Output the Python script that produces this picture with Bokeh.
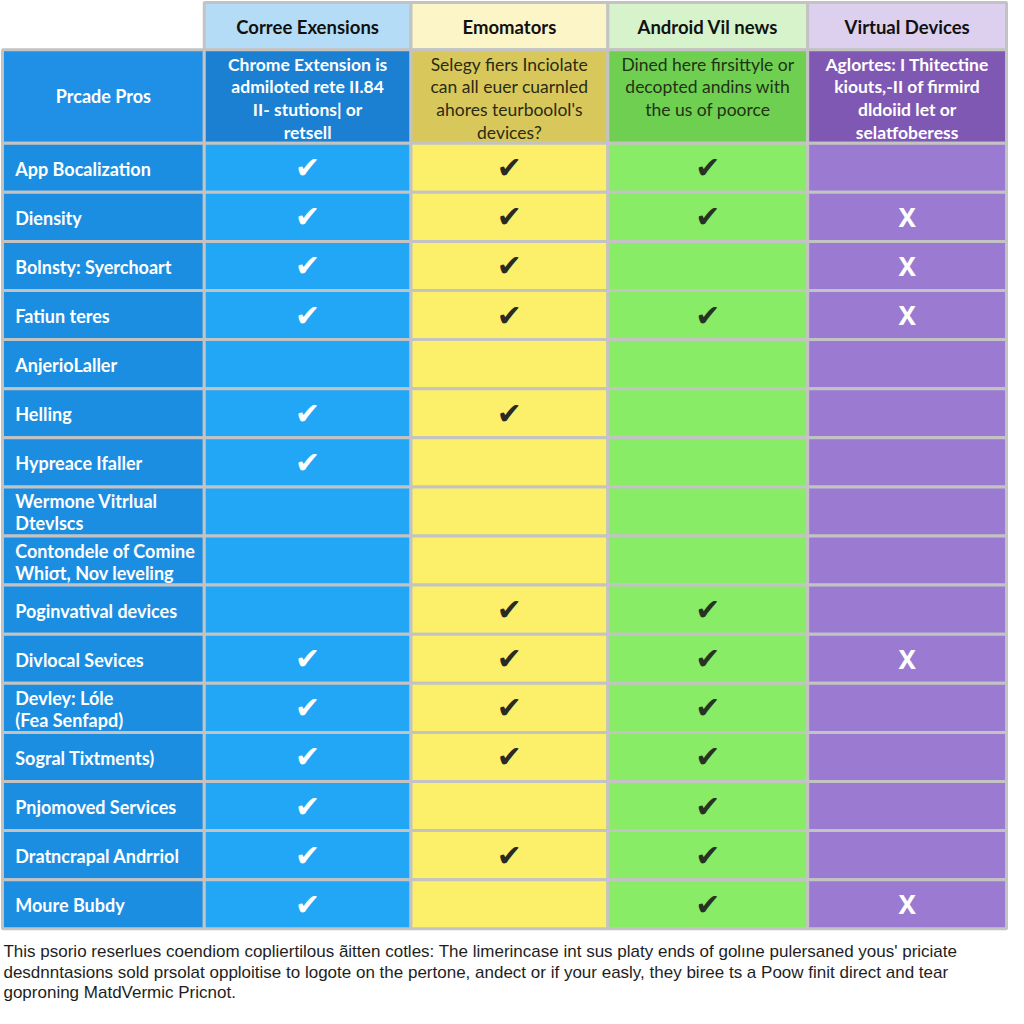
from bokeh.plotting import figure
from bokeh.models import Range1d
from bokeh.core.properties import value
from bokeh.embed import file_html
from bokeh.resources import INLINE

# ---------------- data ----------------
column_titles = ["Corree Exensions", "Emomators", "Android Vil news", "Virtual Devices"]
corner_label = "Prcade Pros"
column_descriptions = [
    "Chrome Extension is\nadmiloted rete II.84\nII- stutions| or\nretsell",
    "Selegy fiers Inciolate\ncan all euer cuarnled\nahores teurboolol's\ndevices?",
    "Dined here firsittyle or\ndecopted andins with\nthe us of poorce",
    "Aglortes: I Thitectine\nkiouts,-II of firmird\ndldoiid let or\nselatfoberess",
]
features = [
    "App Bocalization",
    "Diensity",
    "Bolnsty: Syerchoart",
    "Fatiun teres",
    "AnjerioLaller",
    "Helling",
    "Hypreace Ifaller",
    "Wermone Vitrlual\nDtevlscs",
    "Contondele of Comine\nWhiσt, Nov leveling",
    "Poginvatival devices",
    "Divlocal Sevices",
    "Devley: Lóle\n(Fea Senfapd)",
    "Sogral Tixtments)",
    "Pnjomoved Services",
    "Dratncrapal Andrriol",
    "Moure Bubdy",
]
# "y" = check mark, "n" = cross, "" = empty
chrome_ext = ["y", "y", "y", "y", "", "y", "y", "", "", "", "y", "y", "y", "y", "y", "y"]
emulators = ["y", "y", "y", "y", "", "y", "", "", "", "y", "y", "y", "y", "", "y", ""]
android_vd = ["y", "y", "", "y", "", "", "", "", "", "y", "y", "y", "y", "y", "y", "y"]
virtual_dev = ["", "n", "n", "n", "", "", "", "", "", "", "n", "", "", "", "", "n"]
footnote = [
    "This psorio reserlues coendiom copliertilous ãitten cotles: The limerincase int sus platy ends of golıne pulersaned yous' priciate",
    "desdnntasions sold prsolat opploitise to logote on the pertone, andect or if your easly, they biree ts a Poow finit direct and tear",
    "goproning MatdVermic Pricnot.",
]

# ---------------- layout / style ----------------
col_edges = [2, 207, 417, 617, 820, 1022]
header_top, header_bot, desc_bot, table_bot = 2, 50, 145, 943
n_rows = len(features)
row_h = (table_bot - desc_bot) / n_rows

left_color = "#1c8ee2"
header_colors = ["#b5dcf7", "#fcf5c8", "#d6f3cb", "#ddd0ef"]
desc_colors = ["#1b80d2", "#d8c85c", "#6fcf50", "#7f58b4"]
body_colors = ["#22a6f6", "#fcf06a", "#89ec66", "#9b7ad1"]
desc_text_colors = ["white", "#2b2b12", "#1f3315", "white"]
desc_text_styles = ["bold", "normal", "normal", "bold"]
mark_colors = ["white", "#2a2a22", "#263322", "white"]
border = "#c3c3c3"
FONT = value("Lato")

p = figure(width=1008, height=1008, output_backend="svg", toolbar_location=None,
           x_range=Range1d(0, 1024), y_range=Range1d(1024, 0),
           x_axis_location=None, y_axis_location=None, min_border=0)
p.grid.visible = False
p.outline_line_color = None
p.background_fill_color = "white"
p.border_fill_color = "white"

# cells
L, R, T, B, C = [], [], [], [], []
L.append(col_edges[0]); R.append(col_edges[1]); T.append(header_bot); B.append(desc_bot); C.append("#1f90e6")
for i in range(n_rows):
    L.append(col_edges[0]); R.append(col_edges[1])
    T.append(desc_bot + i * row_h); B.append(desc_bot + (i + 1) * row_h); C.append(left_color)
for j in range(4):
    L.append(col_edges[j + 1]); R.append(col_edges[j + 2]); T.append(header_top); B.append(header_bot); C.append(header_colors[j])
    L.append(col_edges[j + 1]); R.append(col_edges[j + 2]); T.append(header_bot); B.append(desc_bot); C.append(desc_colors[j])
    for i in range(n_rows):
        L.append(col_edges[j + 1]); R.append(col_edges[j + 2])
        T.append(desc_bot + i * row_h); B.append(desc_bot + (i + 1) * row_h); C.append(body_colors[j])
p.quad(left=L, right=R, top=T, bottom=B, fill_color=C, line_color=border, line_width=3)

centers = [(col_edges[j + 1] + col_edges[j + 2]) / 2 for j in range(4)]

# header titles
p.text(x=centers, y=[(header_top + header_bot) / 2 + 1] * 4, text=column_titles,
       text_font=FONT, text_font_style="bold", text_font_size="18.5px", text_color="#111111",
       text_align="center", text_baseline="middle")

# corner label
p.text(x=[(col_edges[0] + col_edges[1]) / 2], y=[(header_bot + desc_bot) / 2], text=[corner_label],
       text_font=FONT, text_font_style="bold", text_font_size="18px", text_color="white",
       text_align="center", text_baseline="middle")

# descriptions
for j in range(4):
    p.text(x=[centers[j]], y=[54], text=[column_descriptions[j]],
           text_font=FONT, text_font_style=desc_text_styles[j], text_font_size="17.5px",
           text_color=desc_text_colors[j], text_align="center", text_baseline="top",
           text_line_height=1.08)

# features
p.text(x=[15] * n_rows, y=[desc_bot + (i + 0.5) * row_h + 1 for i in range(n_rows)], text=features,
       text_font=FONT, text_font_style="bold", text_font_size="18px", text_color="white",
       text_align="left", text_baseline="middle", text_line_height=1.0)

# marks
for j, col in enumerate([chrome_ext, emulators, android_vd, virtual_dev]):
    xs_c, ys_c, xs_x, ys_x = [], [], [], []
    for i, v in enumerate(col):
        cy = desc_bot + (i + 0.5) * row_h
        if v == "y":
            xs_c.append(centers[j]); ys_c.append(cy)
        elif v == "n":
            xs_x.append(centers[j]); ys_x.append(cy)
    if xs_c:
        p.text(x=xs_c, y=ys_c, text=["✔"] * len(xs_c), text_font=value("DejaVu Sans"),
               text_font_size="30px", text_color=mark_colors[j], text_align="center",
               text_baseline="middle")
    if xs_x:
        p.text(x=xs_x, y=ys_x, text=["X"] * len(xs_x), text_font=value("Noto Sans"),
               text_font_style="bold", text_font_size="26px", text_color=mark_colors[j],
               text_align="center", text_baseline="middle")

# footnote
p.text(x=[3] * len(footnote), y=[966 + 21 * k for k in range(len(footnote))], text=footnote,
       text_font=value("Liberation Sans"), text_font_size="17px", text_color="#1e1e1e",
       text_align="left", text_baseline="middle")

open("out.html", "w").write(file_html(p, INLINE))
